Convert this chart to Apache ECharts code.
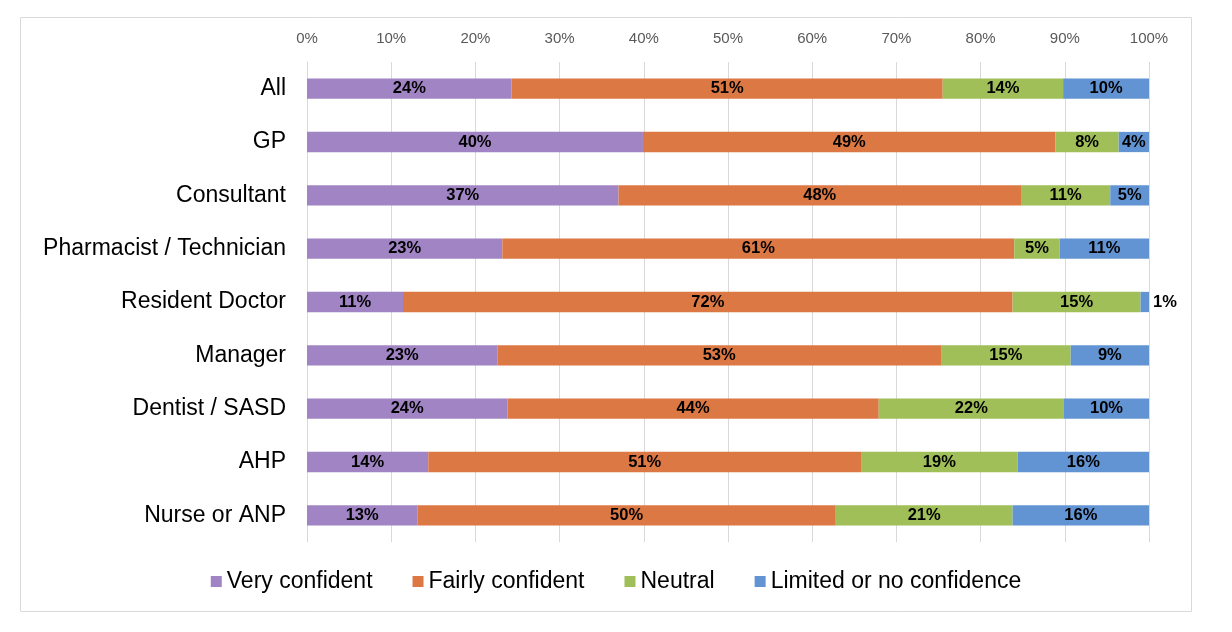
<!DOCTYPE html>
<html>
<head>
<meta charset="utf-8">
<script src="https://cdn.jsdelivr.net/npm/echarts@6/dist/echarts.min.js"></script>
<style>
  html, body { margin: 0; padding: 0; background: #fff; }
  #main { width: 1232px; height: 632px; }
</style>
</head>
<body>
<div id="main"></div>
<script>
var groups = ['All', 'GP', 'Consultant', 'Pharmacist / Technician', 'Resident Doctor',
  'Manager', 'Dentist / SASD', 'AHP', 'Nurse or ANP'];

var seriesNames = ['Very confident', 'Fairly confident', 'Neutral', 'Limited or no confidence'];
var colors = ['#A084C4', '#DC7844', '#A0BF58', '#6294D4'];

// percentages (labels show the rounded value)
var veryConfident = [24.3, 39.9, 37.0, 23.2, 11.4, 22.6, 23.8, 14.4, 13.1];
var fairlyConfident = [51.2, 49.0, 47.8, 60.8, 72.4, 52.7, 44.1, 51.4, 49.7];
var neutral = [14.3, 7.5, 10.6, 5.4, 15.2, 15.4, 22.0, 18.6, 21.0];
var limited = [10.2, 3.6, 4.6, 10.6, 1.0, 9.3, 10.1, 15.6, 16.2];

var xTicks = [0, 10, 20, 30, 40, 50, 60, 70, 80, 90, 100];

var myChart = echarts.init(document.getElementById('main'));

// tiny segments get their label outside, to the right
function makeData(arr) {
  return arr.map(function (v) {
    if (v < 2) {
      return { value: v, label: { position: 'right', distance: 4 } };
    }
    return v;
  });
}

var allValues = [veryConfident, fairlyConfident, neutral, limited];

var series = seriesNames.map(function (name, i) {
  return {
    name: name,
    type: 'bar',
    stack: 'total',
    barWidth: '38%',
    itemStyle: { color: colors[i] },
    label: {
      show: true,
      position: 'inside',
      color: '#000',
      fontWeight: 'bold',
      fontSize: 16.5,
      fontFamily: 'Liberation Sans',
      formatter: function (p) { return Math.round(p.value) + '%'; }
    },
    data: makeData(allValues[i])
  };
});

var option = {
  animation: false,
  textStyle: { fontFamily: 'Liberation Sans' },
  graphic: [{
    type: 'rect',
    shape: { x: 20.5, y: 17.5, width: 1171, height: 594 },
    style: { fill: 'none', stroke: '#d9d9d9', lineWidth: 1 }
  }],
  grid: { left: 307, right: 83, top: 62, bottom: 90 },
  legend: {
    bottom: 34,
    left: 'center',
    icon: 'rect',
    itemWidth: 11,
    itemHeight: 11,
    itemGap: 40,
    textStyle: { fontSize: 23, color: '#000', fontFamily: 'Liberation Sans' },
    data: seriesNames
  },
  xAxis: {
    type: 'value',
    position: 'top',
    min: xTicks[0],
    max: xTicks[xTicks.length - 1],
    interval: 10,
    axisLine: { show: false },
    axisTick: { show: false },
    axisLabel: { formatter: '{value}%', color: '#595959', fontSize: 15, margin: 16 },
    splitLine: { lineStyle: { color: '#d9d9d9' } }
  },
  yAxis: {
    type: 'category',
    inverse: true,
    data: groups,
    axisLine: { show: true, lineStyle: { color: '#d9d9d9' } },
    axisTick: { show: false },
    axisLabel: { color: '#000', fontSize: 23, margin: 21 }
  },
  series: series
};

myChart.setOption(option);
</script>
</body>
</html>
